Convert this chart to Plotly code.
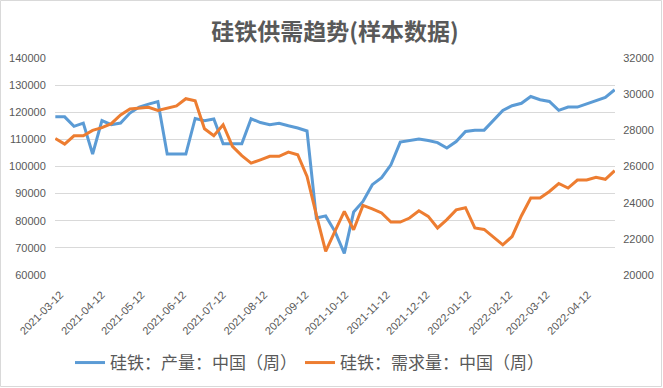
import pandas as pd
import plotly.graph_objects as go

dates = pd.date_range("2021-03-12", periods=61, freq="7D")

production = [118300, 118300, 114800, 116000, 104600, 116900, 115400, 116000, 119700, 121900,
              123000, 123900, 104600, 104600, 104600, 117700, 116900, 117500, 108400, 108400,
              108400, 117600, 116200, 115400, 115900, 115000, 114200, 113100, 81000, 81800,
              76000, 68000, 83200, 87100, 93300, 95900, 100600, 109000, 109500, 110100,
              109600, 108800, 106800, 109200, 112900, 113400, 113400, 117100, 120700, 122400,
              123300, 125800, 124600, 124000, 120700, 121900, 121900, 123100, 124400, 125500,
              128300]

demand = [27550, 27240, 27700, 27700, 28000, 28150, 28370, 28850, 29180, 29230,
          29270, 29100, 29230, 29350, 29750, 29640, 28090, 27700, 28310, 27110,
          26600, 26190, 26370, 26560, 26560, 26800, 26650, 25450, 23330, 21300,
          22420, 23520, 22500, 23850, 23660, 23430, 22930, 22930, 23150, 23550,
          23240, 22600, 23060, 23600, 23720, 22600, 22520, 22080, 21670, 22130,
          23280, 24260, 24260, 24620, 25060, 24810, 25250, 25250, 25400, 25290,
          25770]

name_prod = "硅铁：产量：中国（周）"
name_dem = "硅铁：需求量：中国（周）"
title = "硅铁供需趋势(样本数据)"

TXT = "#595959"
FONT = "Liberation Sans, Noto Sans CJK SC"
CJK = "Noto Sans CJK SC"

L, R, T, B = 55, 48, 58, 113
W, H = 663, 388
pw, ph = W - L - R, H - T - B
leg_y = (T + ph - 363) / ph

fig = go.Figure()
fig.add_trace(go.Scatter(x=dates, y=production, name=name_prod, mode="lines",
                         line=dict(color="#5B9BD5", width=3), legend="legend"))
fig.add_trace(go.Scatter(x=dates, y=demand, name=name_dem, mode="lines", yaxis="y2",
                         line=dict(color="#ED7D31", width=3), legend="legend2"))

leg_common = dict(orientation="h", xref="container", xanchor="left", y=leg_y, yanchor="middle",
                  font=dict(family=CJK, size=17, color=TXT), bgcolor="rgba(0,0,0,0)",
                  borderwidth=0)

fig.update_layout(
    width=W, height=H,
    margin=dict(l=L, r=R, t=T, b=B, pad=0, autoexpand=False),
    paper_bgcolor="white", plot_bgcolor="white",
    font=dict(family=FONT, color=TXT, size=11),
    title=dict(text=title, x=0.5, xref="paper", xanchor="center", y=1 - 32 / H, yanchor="middle",
               font=dict(family=CJK, size=23, color=TXT, weight="bold")),
    xaxis=dict(type="date", range=["2021-03-11 18:00", "2022-05-06 06:00"], automargin=False,
               tick0="2021-03-12", dtick="M1", tickformat="%Y-%m-%d", tickangle=-45,
               showgrid=False, zeroline=False, showline=False,
               ticks="outside", ticklen=8, tickcolor="rgba(0,0,0,0)", ticklabelshift=5,
               tickfont=dict(size=11, color=TXT)),
    yaxis=dict(range=[60000, 140000], dtick=10000, tickformat="d", automargin=False,
               showgrid=True, gridcolor="#d9d9d9",
               gridwidth=1, zeroline=False, showline=False,
               ticks="outside", ticklen=6, tickcolor="rgba(0,0,0,0)",
               tickfont=dict(size=11, color=TXT)),
    yaxis2=dict(range=[20000, 32000], dtick=2000, tickformat="d", automargin=False,
                overlaying="y", side="right",
                showgrid=False, zeroline=False, showline=False,
                ticks="outside", ticklen=5, tickcolor="rgba(0,0,0,0)",
                tickfont=dict(size=11, color=TXT)),
    legend=dict(x=70 / W, **leg_common),
    legend2=dict(x=300 / W, **leg_common),
    showlegend=True,
    shapes=[dict(type="rect", xref="paper", yref="paper",
                 x0=-(L - 0.5) / pw, x1=1 + (R - 1.5) / pw,
                 y0=-(B - 1.5) / ph, y1=1 + (T - 0.5) / ph,
                 line=dict(color="#d9d9d9", width=1), fillcolor="rgba(0,0,0,0)", layer="below")],
)

fig.write_html("out.html", config={"displayModeBar": False},
               post_script="document.body.style.margin='0';document.body.style.overflow='hidden';")
